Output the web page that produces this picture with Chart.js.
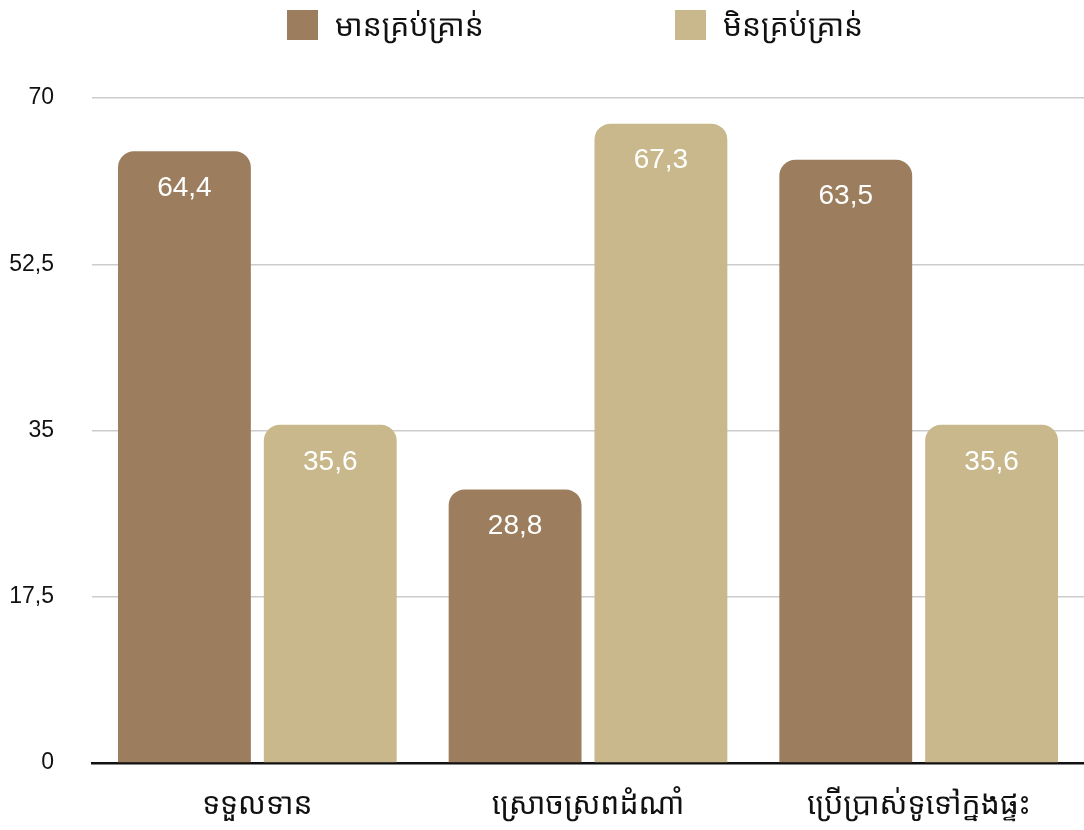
<!DOCTYPE html>
<html>
<head>
<meta charset="utf-8">
<script src="https://cdn.jsdelivr.net/npm/chart.js@4"></script>
<style>
  html, body { margin: 0; padding: 0; background: #fff; }
  .wrap { position: relative; width: 1084px; height: 830px; }
  #chart { display: block; }
  .legend-item {
    position: absolute;
    top: 6px;
    display: flex;
    align-items: center;
    font-family: 'Noto Sans Khmer', 'Khmer OS', 'Noto Sans', sans-serif;
    font-size: 30px;
    color: #111;
    line-height: 38px;
  }
  .legend-item .swatch { width: 31px; height: 30px; margin-right: 17px; }
</style>
</head>
<body>
<div class="wrap">
  <div id="legend"></div>
  <canvas id="chart" width="1084" height="830"></canvas>
</div>
<script>
const categories = ["ទទួលទាន", "ស្រោចស្រពដំណាំ", "ប្រើប្រាស់ទូទៅក្នុងផ្ទះ"];
const seriesNames = ["មានគ្រប់គ្រាន់", "មិនគ្រប់គ្រាន់"];
const enoughValues = [64.4, 28.8, 63.5];
const notEnoughValues = [35.6, 67.3, 35.6];
const yTicks = [0, 17.5, 35, 52.5, 70];

const seriesColors = ["#9c7e5e", "#c8b88b"];
const khmerFont = "'Noto Sans Khmer', 'Khmer OS', 'Noto Sans', sans-serif";
const numFont = "'Liberation Sans', Arial, Helvetica, sans-serif";

function formatComma(v) {
  return String(v).replace(".", ",");
}

// draws the value inside each bar, near its top
const barValueLabels = {
  id: "barValueLabels",
  afterDatasetsDraw(chart) {
    const ctx = chart.ctx;
    ctx.save();
    ctx.fillStyle = "#ffffff";
    ctx.font = "28px " + numFont;
    ctx.textAlign = "center";
    ctx.textBaseline = "middle";
    chart.data.datasets.forEach((ds, i) => {
      chart.getDatasetMeta(i).data.forEach((bar, j) => {
        ctx.fillText(formatComma(ds.data[j]), bar.x, bar.y + 37);
      });
    });
    ctx.restore();
  },
};

const chart = new Chart(document.getElementById("chart"), {
  type: "bar",
  data: {
    labels: categories,
    datasets: seriesNames.map((name, i) => ({
      label: name,
      data: i === 0 ? enoughValues : notEnoughValues,
      backgroundColor: seriesColors[i],
      borderRadius: { topLeft: 16, topRight: 16 },
      borderSkipped: "start",
      categoryPercentage: 0.882,
      barPercentage: 0.911,
    })),
  },
  options: {
    responsive: false,
    animation: false,
    layout: { padding: { left: 10, right: 0, top: 98, bottom: 7 } },
    plugins: {
      legend: { display: false },
      tooltip: { enabled: false },
    },
    scales: {
      x: {
        grid: { display: false, drawTicks: false },
        border: { color: "#111", width: 2.5 },
        afterFit: (axis) => {
          axis.height = 60;
        },
        ticks: {
          color: "#111",
          padding: 24,
          font: { size: 30, family: khmerFont },
        },
      },
      y: {
        min: 0,
        max: 70,
        afterBuildTicks: (axis) => {
          axis.ticks = yTicks.map((v) => ({ value: v }));
        },
        afterFit: (axis) => {
          axis.width = 82;
        },
        grid: { color: "#cccccc", lineWidth: 1.5, drawTicks: false },
        border: { display: false },
        ticks: {
          color: "#111",
          padding: 38,
          font: { size: 23, family: numFont },
          callback: (v) => formatComma(v),
        },
      },
    },
  },
  plugins: [barValueLabels],
});

// html legend built from the chart's datasets
const legendLefts = [287, 675];
const legendEl = document.getElementById("legend");
chart.data.datasets.forEach((ds, i) => {
  const item = document.createElement("div");
  item.className = "legend-item";
  item.style.left = legendLefts[i] + "px";
  const sw = document.createElement("span");
  sw.className = "swatch";
  sw.style.background = ds.backgroundColor;
  const txt = document.createElement("span");
  txt.textContent = ds.label;
  item.appendChild(sw);
  item.appendChild(txt);
  legendEl.appendChild(item);
});
</script>
</body>
</html>
